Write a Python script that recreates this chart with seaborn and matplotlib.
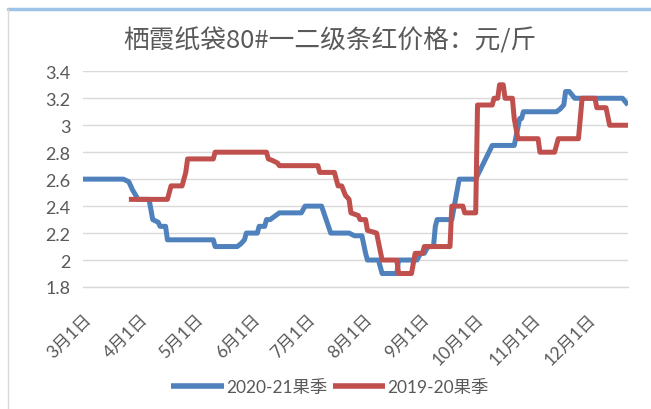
import pandas as pd
import matplotlib
matplotlib.use('Agg')
import matplotlib.pyplot as plt
import matplotlib.lines as mlines
import seaborn as sns

# days since 3月1日 and price (元/斤)
blue_days = [0, 22, 25, 27, 30, 36, 38, 41, 42, 45, 46, 71, 72, 84, 86, 88, 89, 95, 96, 99,
             100, 102, 105, 107, 119, 121, 130, 132, 135, 145, 148, 152, 154, 155, 161, 163,
             171, 172, 182, 184, 186, 188, 191, 192, 193, 201, 203, 205, 214, 223, 235, 238,
             239, 240, 258, 260, 262, 263, 265, 268, 294, 297]
blue_vals = [2.60, 2.60, 2.58, 2.52, 2.45, 2.45, 2.30, 2.28, 2.25, 2.25, 2.15, 2.15, 2.10, 2.10,
             2.12, 2.15, 2.20, 2.20, 2.25, 2.25, 2.30, 2.30, 2.33, 2.35, 2.35, 2.40, 2.40, 2.32,
             2.20, 2.20, 2.18, 2.18, 2.05, 2.00, 2.00, 1.90, 1.90, 2.00, 2.00, 2.05, 2.05, 2.10,
             2.10, 2.25, 2.30, 2.30, 2.45, 2.60, 2.60, 2.85, 2.85, 3.05, 3.05, 3.10, 3.10, 3.12,
             3.15, 3.25, 3.25, 3.20, 3.20, 3.15]

red_days = [25, 46, 48, 54, 56, 57, 71, 72, 100, 101, 103, 106, 107, 128, 129, 137, 139, 141,
            143, 145, 146, 150, 151, 154, 155, 160, 163, 171, 172, 179, 181, 185, 186, 200,
            201, 207, 208, 214, 215, 223, 224, 226, 227, 229, 230, 234, 235, 237, 248, 249,
            257, 259, 270, 272, 279, 280, 285, 287, 297]
red_vals = [2.45, 2.45, 2.55, 2.55, 2.65, 2.75, 2.75, 2.80, 2.80, 2.75, 2.74, 2.72, 2.70, 2.70,
            2.65, 2.65, 2.55, 2.55, 2.48, 2.45, 2.35, 2.33, 2.30, 2.30, 2.22, 2.20, 2.00, 2.00,
            1.90, 1.90, 2.05, 2.05, 2.10, 2.10, 2.40, 2.40, 2.35, 2.35, 3.15, 3.15, 3.20, 3.20,
            3.30, 3.30, 3.20, 3.20, 3.05, 2.90, 2.90, 2.80, 2.80, 2.90, 2.90, 3.20, 3.20, 3.13,
            3.13, 3.00, 3.00]

seasons = ['2020-21果季', '2019-20果季']
colors = ['#4F81BD', '#C0504D']
months = [3, 4, 5, 6, 7, 8, 9, 10, 11, 12]
y_ticks = [1.8, 2.0, 2.2, 2.4, 2.6, 2.8, 3.0, 3.2, 3.4]

start = pd.Timestamp('2020-03-01')
df = pd.concat([
    pd.DataFrame({'date': start + pd.to_timedelta(blue_days, unit='D'),
                  'price': blue_vals, 'season': seasons[0]}),
    pd.DataFrame({'date': start + pd.to_timedelta(red_days, unit='D'),
                  'price': red_vals, 'season': seasons[1]}),
])

sns.set_style('white')
plt.rcParams['font.family'] = ['Lato', 'Noto Sans CJK SC', 'DejaVu Sans']
grey = '#595959'

fig = plt.figure(figsize=(6.51, 4.10), dpi=100)
ax = fig.add_axes([83 / 651, 1 - 288 / 410, 545 / 651, (288 - 72.3) / 410])

sns.lineplot(data=df, x='date', y='price', hue='season', hue_order=seasons,
             palette=colors, linewidth=3.6, ax=ax, estimator=None, sort=False)
for line in ax.get_lines():
    line.set_solid_joinstyle('round')
    line.set_solid_capstyle('butt')

ax.set_xlim(start, start + pd.Timedelta(days=297))
ax.set_ylim(1.8, 3.4)
ax.set_yticks(y_ticks)
ax.set_yticklabels([f'{v:g}' for v in y_ticks])
ticks = [pd.Timestamp(2020, m, 1) for m in months]
ax.set_xticks(ticks)
ax.set_xticklabels([f'{m}月1日' for m in months], rotation=45, ha='right',
                   rotation_mode='anchor')
ax.set_xlabel('')
ax.set_ylabel('')

ax.grid(axis='y', color='#d9d9d9', linewidth=1)
ax.set_axisbelow(True)
for s in ['top', 'right', 'left']:
    ax.spines[s].set_visible(False)
ax.spines['bottom'].set_color('#d9d9d9')
ax.spines['bottom'].set_linewidth(1)
ax.tick_params(axis='x', length=5.5, color='#d9d9d9', labelsize=12.5, labelcolor=grey, pad=11)
ax.tick_params(axis='y', length=0, labelsize=13, labelcolor=grey, pad=9)

fig.text(0.507, 0.898, '栖霞纸袋80#一二级条红价格：元/斤', ha='center', va='center',
         fontsize=18.5, color=grey, family=['Noto Sans CJK SC', 'DejaVu Sans'])

handles, labels = ax.get_legend_handles_labels()
leg = ax.legend(handles, labels, loc='center', bbox_to_anchor=(0.507, 0.054),
                bbox_transform=fig.transFigure, ncol=2, frameon=False, fontsize=12.5,
                handlelength=3.0, columnspacing=0.3, handletextpad=0.15, labelcolor=grey)
for h in leg.get_lines():
    h.set_linewidth(4)

# chart frame
fig.add_artist(mlines.Line2D([8 / 651, 1], [1 - 10 / 410] * 2, color='#9dc3e6', linewidth=2.5))
fig.add_artist(mlines.Line2D([8 / 651] * 2, [0, 1 - 10 / 410], color='#d9d9d9', linewidth=1))

fig.savefig('out.png', dpi=100)
